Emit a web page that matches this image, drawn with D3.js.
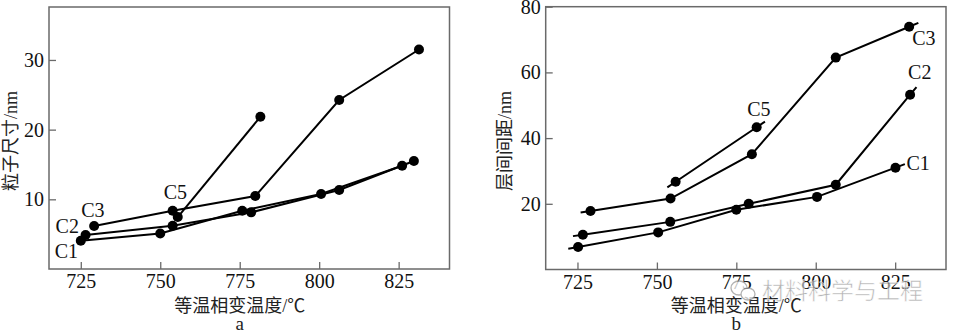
<!DOCTYPE html>
<html><head><meta charset="utf-8">
<script src="https://cdn.jsdelivr.net/npm/d3@7"></script>
<style>
html,body{margin:0;padding:0;background:#fff;}
svg{display:block;}
</style>
</head><body>
<svg id="chart" width="953" height="333"></svg>
<script>
// ---------- DATA ----------
const seriesNames = ["C1", "C2", "C3", "C5"];
const xTicks = [725, 750, 775, 800, 825];
const yTicksA = [10, 20, 30];
const yTicksB = [20, 40, 60, 80];

// Panel a: particle size (nm)
const aC1Temp = [725, 750, 775.8, 800.6, 826.1];
const aC1Val  = [4.06, 5.1, 8.37, 10.76, 14.82];
const aC2Temp = [726.5, 753.9, 778.6, 806.3, 829.8];
const aC2Val  = [4.88, 6.2, 8.13, 11.33, 15.5];
const aC3Temp = [729.2, 753.9, 779.9, 806.3, 831.4];
const aC3Val  = [6.17, 8.37, 10.47, 24.25, 31.5];
const aC5Temp = [755.5, 781.5];
const aC5Val  = [7.46, 21.85];

// Panel b: interlamellar spacing (nm)
const bC1Temp = [725.2, 750.4, 775, 800.4, 825.1];
const bC1Val  = [6.84, 11.3, 18.2, 22.1, 31.0];
const bC2Temp = [726.7, 754.2, 778.9, 806.3, 829.7];
const bC2Val  = [10.6, 14.5, 20.0, 25.8, 53.2];
const bC3Temp = [729.1, 754.3, 779.9, 806.3, 829.4];
const bC3Val  = [17.8, 21.6, 35.1, 64.5, 73.9];
const bC5Temp = [755.9, 781.4];
const bC5Val  = [26.7, 43.3];

const titleA = "粒子尺寸/nm";
const titleB = "层间间距/nm";
const xTitle = "等温相变温度/℃";
const watermark = "材料科学与工程";

// ---------- RENDER ----------
const svg = d3.select("#chart");
const serif = "Liberation Serif, Times New Roman, DejaVu Serif, serif";
const cjk = "Liberation Serif, Noto Sans CJK SC, serif";
const frameColor = "#6a6a6a";

function zip(t, v) { return t.map((d, i) => ({x: d, y: v[i]})); }

const panels = [
  {
    box: {l: 49, r: 449.5, t: 7, b: 269},
    yDomain: [0, 37.6], yTicks: yTicksA, title: titleA, titleX: 11, letter: "a", extend: 0,
    series: [zip(aC1Temp, aC1Val), zip(aC2Temp, aC2Val), zip(aC3Temp, aC3Val), zip(aC5Temp, aC5Val)],
    labels: [["first", -26, 17], ["first", -30, -2], ["first", -13, -9], ["first", -14, -18]]
  },
  {
    box: {l: 545.7, r: 946, t: 6.7, b: 269.5},
    yDomain: [0, 80], yTicks: yTicksB, title: titleB, titleX: 505, letter: "b", extend: 10,
    series: [zip(bC1Temp, bC1Val), zip(bC2Temp, bC2Val), zip(bC3Temp, bC3Val), zip(bC5Temp, bC5Val)],
    labels: [["last", 11, 2], ["last", -2, -16], ["last", 3, 18], ["last", -9.5, -11]]
  }
];

panels.forEach(p => {
  const x = d3.scaleLinear().domain([715, 841]).range([p.box.l, p.box.r]);
  const y = d3.scaleLinear().domain(p.yDomain).range([p.box.b, p.box.t]);
  const g = svg.append("g");

  const xa = g.append("g").attr("transform", `translate(0,${p.box.b})`)
    .call(d3.axisBottom(x).tickValues(xTicks).tickSizeInner(-7).tickSizeOuter(0).tickPadding(5).tickFormat(d3.format("d")));
  const ya = g.append("g").attr("transform", `translate(${p.box.l},0)`)
    .call(d3.axisLeft(y).tickValues(p.yTicks).tickSizeInner(-7).tickSizeOuter(0).tickPadding(5).tickFormat(d3.format("d")));
  [xa, ya].forEach(a => {
    a.attr("font-family", serif).attr("font-size", 20);
    a.select(".domain").remove();
    a.selectAll(".tick line").attr("stroke", frameColor).attr("stroke-width", 1.3);
    a.selectAll(".tick text").attr("fill", "#111").attr("font-family", serif)
      .style("font-family", serif).style("font-size", "20px");
  });

  g.append("rect").attr("x", p.box.l).attr("y", p.box.t)
    .attr("width", p.box.r - p.box.l).attr("height", p.box.b - p.box.t)
    .attr("fill", "none").attr("stroke", frameColor).attr("stroke-width", 1.5);

  const line = d3.line().x(d => d[0]).y(d => d[1]);
  p.series.forEach((s, i) => {
    let pts = s.map(d => [x(d.x), y(d.y)]);
    if (p.extend > 0) {
      const ext = (a, b) => {
        const dx = a[0] - b[0], dy = a[1] - b[1], L = Math.hypot(dx, dy);
        return [a[0] + dx / L * p.extend, a[1] + dy / L * p.extend];
      };
      pts = [ext(pts[0], pts[1]), ...pts, ext(pts[pts.length - 1], pts[pts.length - 2])];
    }
    g.append("path").attr("d", line(pts)).attr("fill", "none")
      .attr("stroke", "#000").attr("stroke-width", 2);
    g.selectAll(null).data(s).enter().append("circle")
      .attr("cx", d => x(d.x)).attr("cy", d => y(d.y)).attr("r", 5).attr("fill", "#000");

    const lab = p.labels[i];
    const ref = lab[0] === "first" ? s[0] : s[s.length - 1];
    g.append("text").attr("x", x(ref.x) + lab[1]).attr("y", y(ref.y) + lab[2])
      .attr("fill", "#111").attr("font-family", serif).style("font-size", "20px")
      .text(seriesNames[i]);
  });

  g.append("text").attr("x", x(775)).attr("y", 312)
    .attr("text-anchor", "middle").attr("fill", "#222")
    .attr("font-family", cjk).style("font-size", "18px").text(xTitle);
  g.append("text").attr("x", x(775)).attr("y", 330)
    .attr("text-anchor", "middle").attr("fill", "#222")
    .attr("font-family", serif).style("font-size", "19px").text(p.letter);
  g.append("text").attr("transform", `translate(${p.titleX + 6},141) rotate(-90)`)
    .attr("text-anchor", "middle").attr("fill", "#222")
    .attr("font-family", cjk).style("font-size", "18px").text(p.title);
});

// watermark
const wm = svg.append("g").attr("opacity", 0.75);
wm.append("ellipse").attr("cx", 739).attr("cy", 288).attr("rx", 8).attr("ry", 7)
  .attr("fill", "#fff").attr("stroke", "#999").attr("stroke-width", 1.3);
wm.append("ellipse").attr("cx", 748).attr("cy", 294).attr("rx", 7).attr("ry", 6)
  .attr("fill", "#fff").attr("stroke", "#999").attr("stroke-width", 1.3);
wm.append("text").attr("x", 762).attr("y", 299)
  .attr("fill", "#9a9a9a").attr("stroke", "#fff").attr("stroke-width", 0.6)
  .attr("font-family", "Noto Sans CJK SC, sans-serif").style("font-size", "23px")
  .text(watermark);
</script>
</body></html>
